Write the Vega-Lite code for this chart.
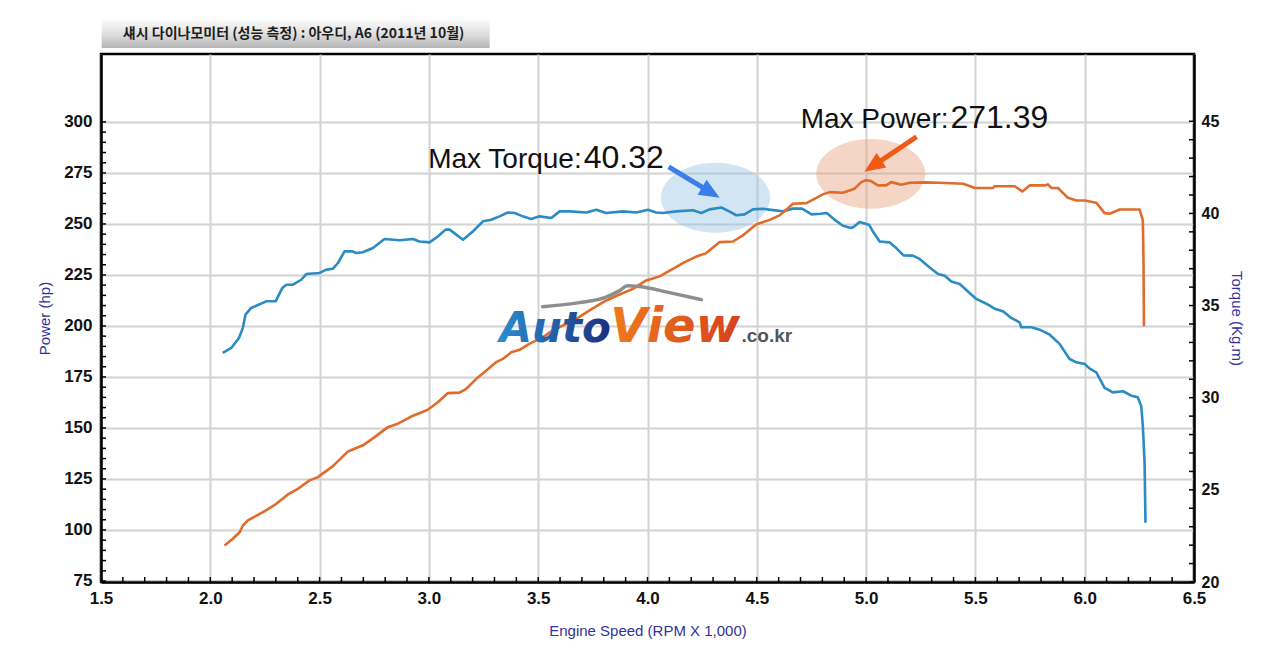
{
  "$schema": "https://vega.github.io/schema/vega-lite/v6.json",
  "width": 1093,
  "height": 528,
  "autosize": "none",
  "padding": {"left": 101, "top": 54, "right": 86, "bottom": 86},
  "background": "white",
  "datasets": {
    "power": [
      {"rpm": 2.065, "hp": 92.4}, {"rpm": 2.103, "hp": 95.7}, {"rpm": 2.134, "hp": 98.9},
      {"rpm": 2.149, "hp": 102.2}, {"rpm": 2.172, "hp": 104.7}, {"rpm": 2.241, "hp": 108.7},
      {"rpm": 2.302, "hp": 112.8}, {"rpm": 2.355, "hp": 117.4}, {"rpm": 2.401, "hp": 120.2},
      {"rpm": 2.454, "hp": 124.3}, {"rpm": 2.492, "hp": 125.9}, {"rpm": 2.561, "hp": 131.3},
      {"rpm": 2.63, "hp": 138.5}, {"rpm": 2.698, "hp": 141.5}, {"rpm": 2.752, "hp": 145.5},
      {"rpm": 2.812, "hp": 150.4}, {"rpm": 2.858, "hp": 152.1}, {"rpm": 2.919, "hp": 155.6},
      {"rpm": 2.995, "hp": 158.9}, {"rpm": 3.041, "hp": 162.6}, {"rpm": 3.087, "hp": 167.1},
      {"rpm": 3.14, "hp": 167.3}, {"rpm": 3.171, "hp": 169.2}, {"rpm": 3.217, "hp": 174.1},
      {"rpm": 3.263, "hp": 178.2}, {"rpm": 3.308, "hp": 182.3}, {"rpm": 3.339, "hp": 183.9},
      {"rpm": 3.377, "hp": 187.1}, {"rpm": 3.415, "hp": 188.3}, {"rpm": 3.461, "hp": 191.3},
      {"rpm": 3.522, "hp": 194.5}, {"rpm": 3.567, "hp": 197.8}, {"rpm": 3.629, "hp": 201.1},
      {"rpm": 3.674, "hp": 203.5}, {"rpm": 3.735, "hp": 207.6}, {"rpm": 3.811, "hp": 212.5},
      {"rpm": 3.872, "hp": 215.4}, {"rpm": 3.933, "hp": 218.2}, {"rpm": 3.994, "hp": 222.3},
      {"rpm": 4.055, "hp": 224.3}, {"rpm": 4.116, "hp": 228.0}, {"rpm": 4.17, "hp": 231.3},
      {"rpm": 4.223, "hp": 234.0}, {"rpm": 4.269, "hp": 235.7}, {"rpm": 4.33, "hp": 241.1},
      {"rpm": 4.391, "hp": 241.4}, {"rpm": 4.437, "hp": 244.4}, {"rpm": 4.498, "hp": 249.8},
      {"rpm": 4.559, "hp": 252.0}, {"rpm": 4.604, "hp": 254.2}, {"rpm": 4.635, "hp": 257.0},
      {"rpm": 4.665, "hp": 259.9}, {"rpm": 4.727, "hp": 260.2}, {"rpm": 4.757, "hp": 261.9},
      {"rpm": 4.802, "hp": 264.5}, {"rpm": 4.833, "hp": 265.6}, {"rpm": 4.894, "hp": 265.3},
      {"rpm": 4.947, "hp": 267.3}, {"rpm": 4.978, "hp": 270.5}, {"rpm": 5.0, "hp": 271.39},
      {"rpm": 5.023, "hp": 271.0}, {"rpm": 5.054, "hp": 268.9}, {"rpm": 5.092, "hp": 268.9},
      {"rpm": 5.115, "hp": 270.5}, {"rpm": 5.161, "hp": 269.2}, {"rpm": 5.199, "hp": 270.2},
      {"rpm": 5.27, "hp": 270.4}, {"rpm": 5.336, "hp": 270.2}, {"rpm": 5.444, "hp": 269.7},
      {"rpm": 5.498, "hp": 267.6}, {"rpm": 5.58, "hp": 267.6}, {"rpm": 5.588, "hp": 268.5},
      {"rpm": 5.68, "hp": 268.5}, {"rpm": 5.715, "hp": 265.9}, {"rpm": 5.748, "hp": 268.9},
      {"rpm": 5.817, "hp": 268.9}, {"rpm": 5.832, "hp": 269.4}, {"rpm": 5.848, "hp": 267.7},
      {"rpm": 5.878, "hp": 267.6}, {"rpm": 5.923, "hp": 262.8}, {"rpm": 5.962, "hp": 261.5},
      {"rpm": 6.0, "hp": 261.5}, {"rpm": 6.053, "hp": 260.4}, {"rpm": 6.091, "hp": 255.3},
      {"rpm": 6.114, "hp": 255.0}, {"rpm": 6.16, "hp": 257.1}, {"rpm": 6.251, "hp": 257.1},
      {"rpm": 6.266, "hp": 251.7}, {"rpm": 6.269, "hp": 232.1}, {"rpm": 6.271, "hp": 199.8}
    ],
    "torque": [
      {"rpm": 2.057, "kgm": 32.43}, {"rpm": 2.096, "kgm": 32.7}, {"rpm": 2.131, "kgm": 33.24},
      {"rpm": 2.149, "kgm": 33.79}, {"rpm": 2.161, "kgm": 34.51}, {"rpm": 2.187, "kgm": 34.87},
      {"rpm": 2.256, "kgm": 35.23}, {"rpm": 2.299, "kgm": 35.23}, {"rpm": 2.329, "kgm": 35.95},
      {"rpm": 2.348, "kgm": 36.13}, {"rpm": 2.378, "kgm": 36.13}, {"rpm": 2.416, "kgm": 36.4},
      {"rpm": 2.439, "kgm": 36.71}, {"rpm": 2.5, "kgm": 36.77}, {"rpm": 2.531, "kgm": 36.95},
      {"rpm": 2.561, "kgm": 37.0}, {"rpm": 2.584, "kgm": 37.31}, {"rpm": 2.614, "kgm": 37.94},
      {"rpm": 2.65, "kgm": 37.94}, {"rpm": 2.668, "kgm": 37.85}, {"rpm": 2.698, "kgm": 37.89},
      {"rpm": 2.744, "kgm": 38.12}, {"rpm": 2.797, "kgm": 38.61}, {"rpm": 2.866, "kgm": 38.54},
      {"rpm": 2.927, "kgm": 38.61}, {"rpm": 2.957, "kgm": 38.48}, {"rpm": 3.003, "kgm": 38.43},
      {"rpm": 3.041, "kgm": 38.75}, {"rpm": 3.076, "kgm": 39.12}, {"rpm": 3.095, "kgm": 39.12},
      {"rpm": 3.125, "kgm": 38.85}, {"rpm": 3.156, "kgm": 38.57}, {"rpm": 3.201, "kgm": 39.02},
      {"rpm": 3.247, "kgm": 39.57}, {"rpm": 3.285, "kgm": 39.66}, {"rpm": 3.323, "kgm": 39.84},
      {"rpm": 3.361, "kgm": 40.05}, {"rpm": 3.392, "kgm": 40.02}, {"rpm": 3.43, "kgm": 39.84},
      {"rpm": 3.468, "kgm": 39.7}, {"rpm": 3.506, "kgm": 39.84}, {"rpm": 3.56, "kgm": 39.75},
      {"rpm": 3.598, "kgm": 40.11}, {"rpm": 3.644, "kgm": 40.11}, {"rpm": 3.72, "kgm": 40.05},
      {"rpm": 3.766, "kgm": 40.2}, {"rpm": 3.811, "kgm": 40.02}, {"rpm": 3.888, "kgm": 40.11},
      {"rpm": 3.949, "kgm": 40.05}, {"rpm": 4.002, "kgm": 40.2}, {"rpm": 4.04, "kgm": 40.05},
      {"rpm": 4.07, "kgm": 40.02}, {"rpm": 4.132, "kgm": 40.11}, {"rpm": 4.208, "kgm": 40.17},
      {"rpm": 4.246, "kgm": 40.02}, {"rpm": 4.284, "kgm": 40.22}, {"rpm": 4.338, "kgm": 40.32},
      {"rpm": 4.376, "kgm": 40.1}, {"rpm": 4.406, "kgm": 39.9}, {"rpm": 4.444, "kgm": 39.95},
      {"rpm": 4.482, "kgm": 40.22}, {"rpm": 4.528, "kgm": 40.25}, {"rpm": 4.574, "kgm": 40.18},
      {"rpm": 4.619, "kgm": 40.12}, {"rpm": 4.665, "kgm": 40.26}, {"rpm": 4.705, "kgm": 40.27},
      {"rpm": 4.75, "kgm": 39.95}, {"rpm": 4.79, "kgm": 39.98}, {"rpm": 4.82, "kgm": 40.02},
      {"rpm": 4.86, "kgm": 39.62}, {"rpm": 4.894, "kgm": 39.33}, {"rpm": 4.932, "kgm": 39.21},
      {"rpm": 4.947, "kgm": 39.3}, {"rpm": 4.97, "kgm": 39.53}, {"rpm": 5.013, "kgm": 39.39},
      {"rpm": 5.031, "kgm": 39.02}, {"rpm": 5.062, "kgm": 38.48}, {"rpm": 5.107, "kgm": 38.43},
      {"rpm": 5.138, "kgm": 38.12}, {"rpm": 5.171, "kgm": 37.72}, {"rpm": 5.214, "kgm": 37.71},
      {"rpm": 5.245, "kgm": 37.53}, {"rpm": 5.291, "kgm": 37.07}, {"rpm": 5.329, "kgm": 36.71},
      {"rpm": 5.36, "kgm": 36.62}, {"rpm": 5.39, "kgm": 36.31}, {"rpm": 5.428, "kgm": 36.17},
      {"rpm": 5.504, "kgm": 35.36}, {"rpm": 5.55, "kgm": 35.1}, {"rpm": 5.588, "kgm": 34.83},
      {"rpm": 5.626, "kgm": 34.69}, {"rpm": 5.664, "kgm": 34.33}, {"rpm": 5.702, "kgm": 34.09},
      {"rpm": 5.71, "kgm": 33.82}, {"rpm": 5.756, "kgm": 33.82}, {"rpm": 5.794, "kgm": 33.69},
      {"rpm": 5.84, "kgm": 33.42}, {"rpm": 5.885, "kgm": 32.92}, {"rpm": 5.931, "kgm": 32.1},
      {"rpm": 5.962, "kgm": 31.92}, {"rpm": 6.0, "kgm": 31.83}, {"rpm": 6.023, "kgm": 31.58},
      {"rpm": 6.053, "kgm": 31.38}, {"rpm": 6.091, "kgm": 30.53}, {"rpm": 6.129, "kgm": 30.29},
      {"rpm": 6.175, "kgm": 30.35}, {"rpm": 6.213, "kgm": 30.11}, {"rpm": 6.243, "kgm": 30.02},
      {"rpm": 6.259, "kgm": 29.53}, {"rpm": 6.266, "kgm": 28.45}, {"rpm": 6.274, "kgm": 26.46},
      {"rpm": 6.278, "kgm": 23.21}
    ],
    "swoosh": [
      {"rpm": 3.52, "kgm": 34.94}, {"rpm": 3.689, "kgm": 35.16}, {"rpm": 3.804, "kgm": 35.43},
      {"rpm": 3.872, "kgm": 35.81}, {"rpm": 3.909, "kgm": 36.08}, {"rpm": 3.963, "kgm": 36.03},
      {"rpm": 4.101, "kgm": 35.7}, {"rpm": 4.247, "kgm": 35.32}
    ],
    "hpticks": [
      {"hp": 75}, {"hp": 80}, {"hp": 85}, {"hp": 90}, {"hp": 95}, {"hp": 100}, {"hp": 105}, {"hp": 110},
      {"hp": 115}, {"hp": 120}, {"hp": 125}, {"hp": 130}, {"hp": 135}, {"hp": 140}, {"hp": 145}, {"hp": 150},
      {"hp": 155}, {"hp": 160}, {"hp": 165}, {"hp": 170}, {"hp": 175}, {"hp": 180}, {"hp": 185}, {"hp": 190},
      {"hp": 195}, {"hp": 200}, {"hp": 205}, {"hp": 210}, {"hp": 215}, {"hp": 220}, {"hp": 225}, {"hp": 230},
      {"hp": 235}, {"hp": 240}, {"hp": 245}, {"hp": 250}, {"hp": 255}, {"hp": 260}, {"hp": 265}, {"hp": 270},
      {"hp": 275}, {"hp": 280}, {"hp": 285}, {"hp": 290}, {"hp": 295}, {"hp": 300}
    ],
    "kgticks": [
      {"kgm": 20}, {"kgm": 21}, {"kgm": 22}, {"kgm": 23}, {"kgm": 24}, {"kgm": 25}, {"kgm": 26},
      {"kgm": 27}, {"kgm": 28}, {"kgm": 29}, {"kgm": 30}, {"kgm": 31}, {"kgm": 32}, {"kgm": 33},
      {"kgm": 34}, {"kgm": 35}, {"kgm": 36}, {"kgm": 37}, {"kgm": 38}, {"kgm": 39}, {"kgm": 40},
      {"kgm": 41}, {"kgm": 42}, {"kgm": 43}, {"kgm": 44}, {"kgm": 45}
    ],
    "rpmticks": [
      {"rpm": 1.6}, {"rpm": 1.7}, {"rpm": 1.8}, {"rpm": 1.9}, {"rpm": 2.0}, {"rpm": 2.1}, {"rpm": 2.2},
      {"rpm": 2.3}, {"rpm": 2.4}, {"rpm": 2.5}, {"rpm": 2.6}, {"rpm": 2.7}, {"rpm": 2.8}, {"rpm": 2.9},
      {"rpm": 3.0}, {"rpm": 3.1}, {"rpm": 3.2}, {"rpm": 3.3}, {"rpm": 3.4}, {"rpm": 3.5}, {"rpm": 3.6},
      {"rpm": 3.7}, {"rpm": 3.8}, {"rpm": 3.9}, {"rpm": 4.0}, {"rpm": 4.1}, {"rpm": 4.2}, {"rpm": 4.3},
      {"rpm": 4.4}, {"rpm": 4.5}, {"rpm": 4.6}, {"rpm": 4.7}, {"rpm": 4.8}, {"rpm": 4.9}, {"rpm": 5.0},
      {"rpm": 5.1}, {"rpm": 5.2}, {"rpm": 5.3}, {"rpm": 5.4}, {"rpm": 5.5}, {"rpm": 5.6}, {"rpm": 5.7},
      {"rpm": 5.8}, {"rpm": 5.9}, {"rpm": 6.0}, {"rpm": 6.1}, {"rpm": 6.2}, {"rpm": 6.3}, {"rpm": 6.4}
    ]
  },
  "layer": [
    {
      "layer": [
        {
          "data": {"values": [{}]},
          "mark": {
            "type": "rect",
            "fill": {"gradient": "linear", "x1": 0, "y1": 0, "x2": 0, "y2": 1,
              "stops": [{"offset": 0, "color": "#fafafa"}, {"offset": 0.55, "color": "#dcdcdc"}, {"offset": 1, "color": "#b4b4b4"}]}
          },
          "encoding": {
            "x": {"datum": 1.503, "type": "quantitative", "scale": {"domain": [1.5, 6.5], "nice": false, "zero": false}},
            "x2": {"datum": 3.278},
            "y": {"datum": 50.51, "type": "quantitative", "scale": {"domain": [20, 48.65], "nice": false, "zero": false}},
            "y2": {"datum": 48.97}
          }
        },
        {
          "data": {"values": [{}]},
          "mark": {"type": "text", "text": "섀시 다이나모미터 (성능 측정) :  아우디, A6 (2011년 10월)", "font": "Noto Sans CJK KR", "fontSize": 14, "fontWeight": "bold", "color": "#1e1e1e", "align": "center", "baseline": "middle"},
          "encoding": {
            "x": {"datum": 2.381, "type": "quantitative"},
            "y": {"datum": 49.72, "type": "quantitative"}
          }
        },
        {
          "data": {"values": [{}]},
          "mark": {"type": "point", "shape": "M-1,0A1,0.64,0,1,0,1,0A1,0.64,0,1,0,-1,0Z", "size": 11881, "filled": true, "color": "#9bc5e4", "opacity": 0.45, "strokeWidth": 0},
          "encoding": {
            "x": {"datum": 4.311, "type": "quantitative"},
            "y": {"datum": 40.85, "type": "quantitative"}
          }
        },
        {
          "data": {"values": [{}]},
          "mark": {"type": "point", "shape": "M-1,0A1,0.64,0,1,0,1,0A1,0.64,0,1,0,-1,0Z", "size": 11881, "filled": true, "color": "#e9a480", "opacity": 0.45, "strokeWidth": 0},
          "encoding": {
            "x": {"datum": 5.021, "type": "quantitative"},
            "y": {"datum": 42.15, "type": "quantitative"}
          }
        },
        {
          "data": {"name": "kgticks"},
          "mark": {"type": "rule", "color": "#000000", "strokeWidth": 1.5},
          "encoding": {
            "x": {"datum": 6.4771, "type": "quantitative"},
            "x2": {"datum": 6.5},
            "y": {"field": "kgm", "type": "quantitative"}
          }
        },
        {
          "data": {"name": "rpmticks"},
          "mark": {"type": "rule", "color": "#000000", "strokeWidth": 1.5},
          "encoding": {
            "x": {"field": "rpm", "type": "quantitative"},
            "y": {"datum": 20, "type": "quantitative"},
            "y2": {"datum": 20.271}
          }
        },
        {
          "data": {"name": "torque"},
          "mark": {"type": "line", "color": "#2b8bc3", "strokeWidth": 2.6, "strokeJoin": "round"},
          "encoding": {
            "x": {"field": "rpm", "type": "quantitative"},
            "y": {
              "field": "kgm", "type": "quantitative",
              "axis": {
                "orient": "right",
                "title": "Torque (Kg.m)",
                "values": [20, 25, 30, 35, 40, 45],
                "tickCount": 100,
                "format": "d",
                "labelOverlap": false,
                "labelFontSize": 16,
                "grid": false,
                "ticks": false,
                "tickSize": 0,
                "labelPadding": 7,
                "titlePadding": 10
              }
            }
          }
        },
        {
          "data": {"values": [{}]},
          "mark": {"type": "rule", "color": "#3b7de9", "strokeWidth": 5, "strokeCap": "butt"},
          "encoding": {
            "x": {"datum": 4.097, "type": "quantitative"},
            "y": {"datum": 42.53, "type": "quantitative"},
            "x2": {"datum": 4.261},
            "y2": {"datum": 41.34}
          }
        },
        {
          "data": {"values": [{}]},
          "mark": {"type": "point", "shape": "M1,0L-1,-0.85L-1,0.85Z", "size": 420, "angle": 31, "filled": true, "color": "#3b7de9", "opacity": 1, "strokeWidth": 0},
          "encoding": {
            "x": {"datum": 4.29, "type": "quantitative"},
            "y": {"datum": 41.13, "type": "quantitative"}
          }
        },
        {
          "data": {"values": [{}]},
          "mark": {"type": "rule", "color": "#f05a14", "strokeWidth": 5, "strokeCap": "butt"},
          "encoding": {
            "x": {"datum": 5.231, "type": "quantitative"},
            "y": {"datum": 44.16, "type": "quantitative"},
            "x2": {"datum": 5.048},
            "y2": {"datum": 42.7}
          }
        },
        {
          "data": {"values": [{}]},
          "mark": {"type": "point", "shape": "M1,0L-1,-0.85L-1,0.85Z", "size": 420, "angle": 146, "filled": true, "color": "#f05a14", "opacity": 1, "strokeWidth": 0},
          "encoding": {
            "x": {"datum": 5.031, "type": "quantitative"},
            "y": {"datum": 42.57, "type": "quantitative"}
          }
        },
        {
          "data": {"values": [{}]},
          "mark": {"type": "text", "text": "Max Torque:", "font": "Liberation Sans", "fontSize": 28, "color": "#111", "align": "right", "baseline": "alphabetic"},
          "encoding": {
            "x": {"datum": 3.699, "type": "quantitative"},
            "y": {"datum": 42.45, "type": "quantitative"}
          }
        },
        {
          "data": {"values": [{}]},
          "mark": {"type": "text", "text": "40.32", "font": "Liberation Sans", "fontSize": 32, "color": "#111", "align": "left", "baseline": "alphabetic"},
          "encoding": {
            "x": {"datum": 3.708, "type": "quantitative"},
            "y": {"datum": 42.45, "type": "quantitative"}
          }
        },
        {
          "data": {"values": [{}]},
          "mark": {"type": "text", "text": "Max Power:", "font": "Liberation Sans", "fontSize": 28, "color": "#111", "align": "right", "baseline": "alphabetic"},
          "encoding": {
            "x": {"datum": 5.377, "type": "quantitative"},
            "y": {"datum": 44.63, "type": "quantitative"}
          }
        },
        {
          "data": {"values": [{}]},
          "mark": {"type": "text", "text": "271.39", "font": "Liberation Sans", "fontSize": 32, "color": "#111", "align": "left", "baseline": "alphabetic"},
          "encoding": {
            "x": {"datum": 5.386, "type": "quantitative"},
            "y": {"datum": 44.63, "type": "quantitative"}
          }
        }
      ]
    },
    {
      "layer": [
        {
          "data": {"name": "hpticks"},
          "mark": {"type": "rule", "color": "#000000", "strokeWidth": 1.5},
          "encoding": {
            "x": {"datum": 1.5, "type": "quantitative"},
            "x2": {"datum": 1.5229},
            "y": {"field": "hp", "type": "quantitative", "scale": {"domain": [74.5, 333.3], "nice": false, "zero": false}}
          }
        },
        {
          "data": {"name": "power"},
          "mark": {"type": "line", "color": "#e06b2a", "strokeWidth": 2.6, "strokeJoin": "round"},
          "encoding": {
            "x": {
              "field": "rpm", "type": "quantitative",
              "scale": {"domain": [1.5, 6.5], "nice": false, "zero": false},
              "axis": {
                "orient": "bottom",
                "title": "Engine Speed (RPM X 1,000)",
                "values": [1.5, 2.0, 2.5, 3.0, 3.5, 4.0, 4.5, 5.0, 5.5, 6.0, 6.5],
                "tickCount": 100,
                "labelOverlap": false,
                "format": ".1f",
                "labelFontSize": 17,
                "grid": true,
                "ticks": false,
                "tickSize": 0,
                "labelPadding": 8,
                "titlePadding": 17
              }
            },
            "y": {
              "field": "hp", "type": "quantitative",
              "scale": {"domain": [74.5, 333.3], "nice": false, "zero": false},
              "axis": {
                "orient": "left",
                "title": "Power (hp)",
                "values": [75, 100, 125, 150, 175, 200, 225, 250, 275, 300],
                "tickCount": 100,
                "format": "d",
                "labelOverlap": false,
                "labelFontSize": 17,
                "grid": true,
                "ticks": false,
                "tickSize": 0,
                "labelPadding": 9,
                "titlePadding": 11
              }
            }
          }
        }
      ]
    },
    {
      "layer": [
        {
          "data": {"name": "swoosh"},
          "mark": {"type": "line", "color": "#8e8e8e", "strokeWidth": 3.5, "strokeCap": "round", "interpolate": "monotone"},
          "encoding": {
            "x": {"field": "rpm", "type": "quantitative"},
            "y": {"field": "kgm", "type": "quantitative", "scale": {"domain": [20, 48.65], "nice": false, "zero": false}, "axis": null}
          }
        },
        {
          "data": {"values": [{}]},
          "mark": {
            "type": "text", "text": "Auto", "font": "DejaVu Sans", "fontSize": 42, "fontWeight": "bold", "fontStyle": "italic", "align": "left", "baseline": "alphabetic",
            "fill": {"gradient": "linear", "x1": 0, "y1": 0, "x2": 1, "y2": 0, "stops": [{"offset": 0, "color": "#2b8fd2"}, {"offset": 1, "color": "#1c2f7e"}]}
          },
          "encoding": {
            "x": {"datum": 3.323, "type": "quantitative"},
            "y": {"datum": 33.04, "type": "quantitative", "axis": null}
          }
        },
        {
          "data": {"values": [{}]},
          "mark": {
            "type": "text", "text": "View", "font": "DejaVu Sans", "fontSize": 48, "fontWeight": "bold", "fontStyle": "italic", "align": "left", "baseline": "alphabetic",
            "fill": {"gradient": "linear", "x1": 0, "y1": 0, "x2": 1, "y2": 0, "stops": [{"offset": 0, "color": "#ef7b1c"}, {"offset": 1, "color": "#d6401f"}]}
          },
          "encoding": {
            "x": {"datum": 3.83, "type": "quantitative"},
            "y": {"datum": 33.04, "type": "quantitative", "axis": null}
          }
        },
        {
          "data": {"values": [{}]},
          "mark": {"type": "text", "text": ".co.kr", "font": "Liberation Sans", "fontSize": 19, "fontWeight": "bold", "color": "#555555", "align": "left", "baseline": "alphabetic"},
          "encoding": {
            "x": {"datum": 4.43, "type": "quantitative"},
            "y": {"datum": 33.04, "type": "quantitative", "axis": null}
          }
        }
      ]
    }
  ],
  "resolve": {"scale": {"y": "independent"}, "axis": {"y": "independent"}},
  "config": {
    "view": {"stroke": "#000000", "strokeWidth": 2.5},
    "axis": {
      "labelFont": "Liberation Sans",
      "labelFontSize": 16,
      "labelFontWeight": "bold",
      "labelColor": "#111111",
      "labelOverlap": false,
      "labelFlush": false,
      "labelBound": false,
      "titleFont": "Liberation Sans",
      "titleFontSize": 15,
      "titleFontWeight": "normal",
      "titleColor": "#333399",
      "ticks": false,
      "domainColor": "#000000",
      "domainWidth": 2.5,
      "gridColor": "#d2d2d2",
      "gridWidth": 2
    }
  }
}
